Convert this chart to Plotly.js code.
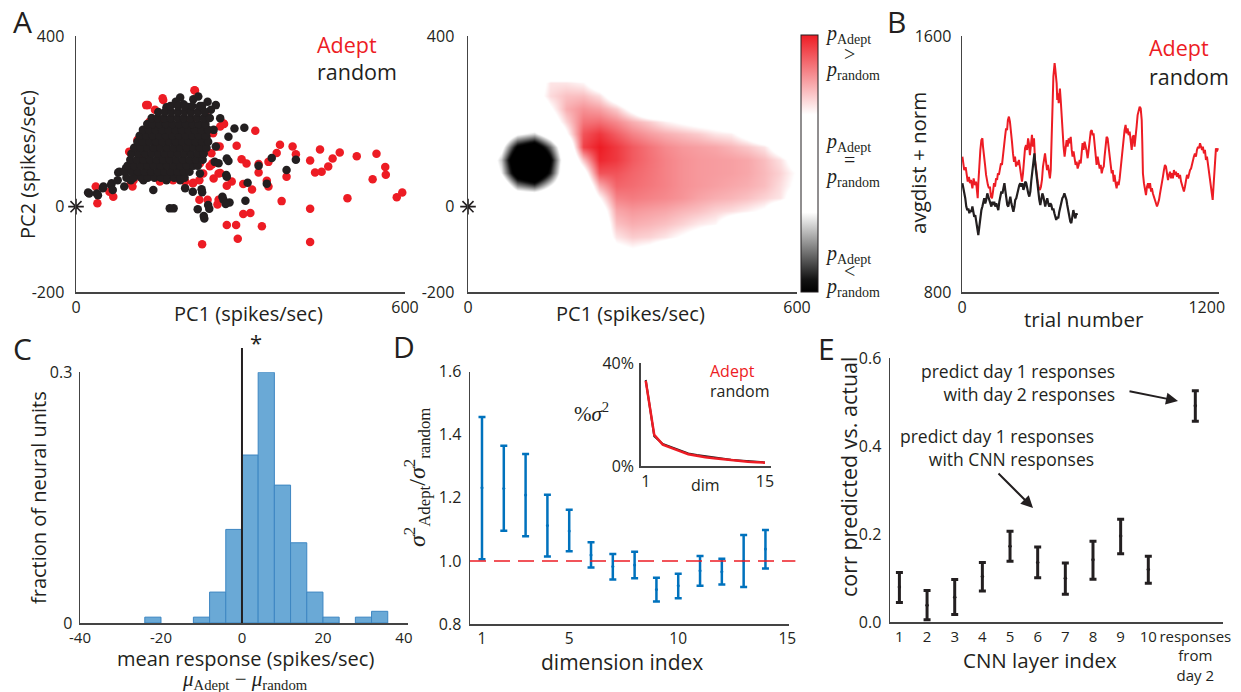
<!DOCTYPE html>
<html><head><meta charset="utf-8">
<script src="https://cdn.plot.ly/plotly-3.0.1.min.js"></script>
<style>html,body{margin:0;padding:0;background:#fff;} #chart{width:1241px;height:692px;}</style>
</head><body><div id="chart"></div>
<script>
// ---------------- DATA ----------------
// Panel A (left): PC scatter
const adeptPC1 = [327,372,395,401,445,481,512,548,564,565,541,468,460,448,436,427,384,375,427,427,495,585,595,293,302,311,333,351,366,333,351,348,321,305,284,275,251,263,248,238,269,318,305,275,292,339,295,230,260,217,131,144,159,134,112,100,39,36,68,103,199,214,232,225,240,258,250,257,247,244,260,263,270,101,105,123,153,177,202,226,238,128,158,216,268,262,249,225,213,97,100,61,140,150,180,170,200,130,190,160,210,120,220];
const adeptPC2 = [178,145,141,123,134,127,118,124,93,75,64,113,94,82,80,108,70,13,-5,-83,20,22,33,143,111,101,100,105,126,80,47,61,40,53,59,49,66,79,99,133,195,-15,-17,-43,-43,-46,-75,-88,16,272,238,227,250,199,156,125,8,47,23,47,59,56,78,16,16,5,172,141,125,95,78,188,194,129,62,78,59,62,86,102,211,238,254,273,195,141,102,62,55,129,55,35,203,150,180,120,140,170,100,200,200,110,160];
const randomPC1 = [22,38,50,65,77,91,190,214,223,240,255,263,289,307,278,255,275,274,253,229,226,199,213,229,141,171,178,222,233,241,267,280,309,313,333,348,357,384,401,190,165,123,129,238,226,246,202,165,251,260,278,269,273,243,234,230,275,40,49,64,67,79,88,100,113,76,24,182,196,230];
const randomPC2 = [33,31,47,55,80,90,256,252,258,246,238,207,183,185,164,141,113,74,105,121,78,43,35,41,39,-4,-4,-6,-22,4,23,10,14,56,96,54,114,86,110,62,62,62,94,164,148,227,234,233,180,102,107,16,6,-5,-28,34,70,27,43,51,39,82,47,62,74,62,31,246,240,236];
// dense core of the random cloud (rows of PC2, PC1 positions per row)
const randomCoreRowPC2 = [68,82,96,110,124,138,152,166,180,194,208,222,236];
const randomCoreRowPC1 = [
 [92,105,119,131,143,155,167,179,190,198],
 [88,101,113,125,137,149,161,173,185,197,207],
 [94,106,118,130,142,154,166,178,190,202,214,222],
 [99,111,123,135,147,159,171,183,195,207,219,231],
 [101,114,126,138,150,162,174,186,198,210,222,233],
 [106,118,130,142,154,166,178,190,202,214,226,238],
 [112,122,134,146,158,170,182,194,206,218,230,241],
 [116,128,140,152,164,176,188,200,212,224,236],
 [122,133,145,157,169,181,193,205,217,229,241],
 [130,140,152,164,176,188,200,212,224,236],
 [138,149,161,173,185,197,209,221,233,244],
 [150,162,174,186,198,210,222,235],
 [172,186,198,212,226]];

// Panel A (middle): density difference map (p_Adept - p_random), grid
const densPC1 = [30,60,90,120,150,180,210,240,270,300,330,360,390,420,450,480,510,540,570,600];
const densPC2 = [-130,-100,-70,-40,-10,20,50,80,110,140,170,200,230,260,290,320];
const densDiff = [
 [0,0,0,0,0,0,0,0,0,0,0,0,0,0,0,0,0,0,0,0],
 [0,0,0,0,0,0,0,0,0.3,0.36,0.3,0.15,0,0,0,0,0,0,0,0],
 [0,0,0,0,0,0,0,0.15,0.45,0.52,0.5,0.45,0.36,0.27,0.1,0,0,0,0,0],
 [0,0,0,0,0,0,0,0.1,0.55,0.6,0.58,0.55,0.5,0.44,0.4,0.2,0.05,0,0,0],
 [0,0,0,0,0,0,0,0.2,0.62,0.66,0.64,0.62,0.58,0.55,0.5,0.47,0.42,0.35,0.1,0],
 [0,0,0,0,0,0,0,0.38,0.72,0.74,0.72,0.7,0.67,0.63,0.6,0.58,0.55,0.5,0.45,0.22],
 [0,0,-0.62,-0.78,-0.38,0,0.05,0.6,0.8,0.78,0.75,0.72,0.68,0.66,0.64,0.62,0.6,0.56,0.47,0.33],
 [0,-0.4,-1.24,-1.53,-0.87,0,0.25,0.85,0.85,0.8,0.76,0.72,0.68,0.66,0.65,0.64,0.62,0.57,0.5,0.36],
 [0,-0.51,-1.45,-1.93,-1.02,-0.05,0.55,0.97,0.92,0.83,0.77,0.72,0.68,0.66,0.65,0.64,0.62,0.56,0.46,0.25],
 [0,-0.27,-1.02,-1.25,-0.71,0,0.9,1.0,0.92,0.83,0.76,0.7,0.66,0.64,0.62,0.58,0.53,0.45,0.22,0],
 [0,0,-0.34,-0.47,-0.13,0.35,0.85,0.93,0.82,0.72,0.65,0.6,0.56,0.52,0.45,0.42,0.27,0.05,0,0],
 [0,0,0,0,0.2,0.5,0.76,0.78,0.7,0.6,0.52,0.42,0.35,0.29,0.26,0.15,0,0,0,0],
 [0,0,0,0,0.35,0.6,0.68,0.64,0.52,0.3,0,0,0,0,0,0,0,0,0,0],
 [0,0,0,0.25,0.48,0.55,0.56,0.47,0.2,0,0,0,0,0,0,0,0,0,0,0],
 [0,0,0,0.2,0.45,0.45,0.4,0.2,0,0,0,0,0,0,0,0,0,0,0,0],
 [0,0,0,0,0,0,0,0,0,0,0,0,0,0,0,0,0,0,0,0]];

// Panel B: avgdist + norm vs trial number
const adeptTrial = [2,7,11,18,23,28,34,39,44,51,57,64,69,74,77,80,85,90,95,100,103,108,113,118,123,127,132,137,142,147,152,157,162,167,172,176,181,186,191,196,201,206,211,216,221,225,230,235,240,245,250,255,260,265,270,274,279,284,289,294,299,304,309,314,319,324,328,333,338,343,348,353,358,363,368,372,377,382,387,392,397,402,407,412,417,421,426,431,435,438,441,444,448,451,454,457,461,464,467,471,474,477,480,484,487,490,493,498,503,508,513,518,523,528,533,538,542,547,552,557,562,567,572,577,582,587,591,596,601,
 610,616,621,626,631,636,641,645,650,655,660,665,670,675,680,685,690,695,699,704,709,714,719,724,729,734,739,744,748,753,758,763,768,773,778,783,788,793,797,802,807,812,817,822,827,832,837,842,846,851,856,861,866,871,876,881,884,887,892,897,902,907,912,917,922,927,931,936,941,946,951,956,961,966,971,976,980,985,990,995,1000,1005,1010,1015,1020,1025,1029,1034,1039,1044,1049,1054,1059,1064,1069,1074,1078,1083,1088,1093,1098,1103,1108,1113,1118,1123,1128,1132,1137,1142,1147,1152,1157,1162,1167,1172,1177,1181,1186,1191,1196,1201,1206,1211,1216,1221,1226,1229,1232,1235,1240,1245,1250,1255];
const adeptAvg = [1223,1197,1181,1190,1166,1145,1160,1140,1150,1124,1155,1134,1145,1103,1093,1140,1212,1244,1275,1280,1254,1233,1197,1166,1145,1134,1124,1129,1098,1093,1114,1140,1129,1155,1150,1171,1166,1186,1202,1197,1233,1259,1285,1311,1306,1337,1348,1332,1285,1270,1233,1207,1223,1192,1207,1197,1213,1186,1160,1145,1171,1213,1249,1259,1244,1280,1265,1228,1270,1291,1254,1280,1212,1181,1160,1140,1124,1119,1129,1150,1192,1223,1233,1207,1181,1197,1171,1155,1181,1265,1348,1410,1473,1494,1515,1499,1473,1452,1400,1421,1390,1416,1436,1400,1358,1337,1296,1254,1223,1244,1275,1254,1280,1265,1285,1244,1223,1239,1213,1197,1207,1186,1197,1213,1202,1244,1265,1244,1270,
 1244,1218,1244,1285,1301,1306,1290,1296,1265,1233,1197,1223,1202,1186,1197,1171,1186,1192,1223,1254,1285,1280,1244,1213,1197,1171,1181,1145,1166,1140,1124,1145,1134,1155,1192,1223,1254,1285,1306,1322,1296,1311,1290,1301,1270,1244,1285,1290,1254,1280,1317,1353,1364,1379,1374,1338,1265,1171,1140,1119,1103,1129,1140,1124,1140,1114,1124,1108,1098,1093,1082,1067,1077,1088,1108,1124,1140,1160,1181,1197,1192,1171,1150,1166,1176,1155,1171,1155,1181,1166,1176,1160,1171,1155,1166,1145,1134,1129,1114,1129,1150,1166,1155,1171,1181,1186,1202,1213,1223,1233,1223,1244,1254,1249,1265,1254,1244,1254,1233,1244,1213,1223,1197,1181,1150,1134,1103,1088,1119,1160,1213,1249,1239,1249];
const randomTrial = [2,7,11,16,21,26,31,36,41,46,51,56,60,65,70,75,80,85,90,95,100,105,109,114,119,124,129,134,139,144,149,154,158,163,168,173,178,183,188,193,198,203,208,212,217,222,227,232,237,242,247,252,257,261,266,271,276,281,286,291,296,301,306,310,315,320,325,330,335,340,345,350,355,359,364,369,374,379,384,389,394,399,404,408,413,418,423,428,433,438,443,448,453,458,462,467,472,477,482,487,492,497,502,507,512,516,521,526,531,536,541,546,551,556,561,564];
const randomAvg = [1140,1124,1108,1093,1067,1056,1061,1046,1056,1051,1067,1046,1035,1040,1015,994,978,1004,1035,1056,1067,1082,1093,1077,1088,1108,1098,1093,1077,1067,1082,1072,1082,1067,1077,1061,1056,1082,1098,1114,1108,1129,1140,1119,1098,1072,1067,1088,1098,1077,1067,1051,1067,1088,1093,1108,1119,1134,1140,1129,1140,1119,1129,1145,1140,1119,1108,1098,1114,1150,1186,1213,1233,1202,1171,1145,1119,1088,1072,1093,1108,1098,1077,1067,1082,1093,1077,1067,1077,1072,1056,1061,1046,1035,1025,1035,1030,1051,1067,1082,1093,1098,1108,1098,1088,1072,1056,1035,1020,1015,1040,1056,1040,1030,1046,1040];

// Panel C: histogram of mean response difference
const histCenters = [-22,-10,-6,-2,2,6,10,14,18,22,30,34];
const histFraction = [0.007,0.007,0.037,0.112,0.201,0.300,0.165,0.096,0.037,0.007,0.007,0.014];
const histMean = 5.7;

// Panel D: variance ratio per dimension
const dimIndex = [1,2,3,4,5,6,7,8,9,10,11,12,13,14];
const varRatio = [1.232,1.23,1.209,1.112,1.095,1.019,0.982,0.987,0.909,0.921,0.969,0.966,1.0,1.038];
const varRatioLow = [1.005,1.096,1.078,1.014,1.031,0.979,0.941,0.945,0.871,0.882,0.921,0.925,0.917,0.976];
const varRatioHigh = [1.456,1.365,1.339,1.21,1.162,1.059,1.022,1.029,0.947,0.959,1.016,1.007,1.082,1.098];
// Panel D inset: % variance explained
const insetDim = [1,2,3,4,5,6,7,8,9,10,11,12,13,14,15];
const insetAdept = [33.2,12.1,8.3,7.2,5.8,4.6,3.9,3.4,3.0,2.6,2.3,2.0,1.7,1.5,1.3];
const insetRandom = [33.5,11.6,8.6,7.4,6.0,4.9,4.3,3.8,3.3,2.8,2.4,2.1,1.8,1.6,1.4];

// Panel E: corr predicted vs actual
const layerPos = [1,2,3,4,5,6,7,8,9,10,11.7];
const layerLabels = ['1','2','3','4','5','6','7','8','9','10','responses<br>from<br>day 2'];
const corrMean = [0.080,0.039,0.057,0.104,0.173,0.136,0.100,0.142,0.196,0.120,0.492];
const corrLow = [0.045,0.006,0.018,0.071,0.139,0.101,0.064,0.098,0.156,0.089,0.457];
const corrHigh = [0.113,0.072,0.097,0.136,0.207,0.171,0.135,0.184,0.234,0.150,0.526];

// ---------------- STYLE / LAYOUT ----------------
const W = 1241, H = 692;
const RED = '#ed1c24', BLK = '#231f20', AXC = '#444444', TXT = '#231f20', BLUE = '#0072bd';
const FONT = 'Open Sans, sans-serif', SERIF = 'Liberation Serif, Times New Roman, serif';
const hx = (a, b) => [a / W, b / W];
const vy = (top, bottom) => [1 - bottom / H, 1 - top / H];
const PX = p => p / W, PY = p => 1 - p / H;

function axis(dom, rng, tv, tt, anchor, extra) {
  return Object.assign({domain: dom, range: rng, tickmode: 'array', tickvals: tv, ticktext: tt, anchor: anchor,
    showline: true, linecolor: AXC, linewidth: 1.5, zeroline: false, showgrid: false, tickangle: 0,
    ticks: 'outside', ticklen: 4, tickcolor: 'rgba(0,0,0,0)', tickfont: {size: 16, color: TXT, family: FONT},
    fixedrange: true}, extra || {});
}

// build the dense random core
const coreX = [], coreY = [];
randomCoreRowPC2.forEach((yv, i) => randomCoreRowPC1[i].forEach(xv => { coreX.push(xv); coreY.push(yv); }));

const star = {symbol: 'asterisk-open', size: 13, color: BLK, line: {width: 1.6, color: BLK}};
const traces = [
  {type: 'scatter', mode: 'markers', x: adeptPC1, y: adeptPC2, xaxis: 'x', yaxis: 'y', cliponaxis: false,
   marker: {size: 8.5, color: RED}, hoverinfo: 'skip'},
  {type: 'scatter', mode: 'markers', x: randomPC1.concat(coreX), y: randomPC2.concat(coreY), xaxis: 'x', yaxis: 'y', cliponaxis: false,
   marker: {size: 8.5, color: BLK}, hoverinfo: 'skip'},
  {type: 'scatter', mode: 'markers', x: [0], y: [0], xaxis: 'x', yaxis: 'y', cliponaxis: false,
   marker: star, hoverinfo: 'skip'},
  {type: 'heatmap', x: densPC1, y: densPC2, z: densDiff, xaxis: 'x2', yaxis: 'y2', zmin: -1, zmax: 1, zsmooth: 'best',
   colorscale: [[0, '#000000'], [0.05, '#141414'], [0.31, '#ffffff'], [0.69, '#ffffff'], [1, RED]],
   hoverinfo: 'skip',
   colorbar: {x: 801 / W, xanchor: 'left', y: 1 - 163.5 / H, yanchor: 'middle', len: 257, lenmode: 'pixels',
     thickness: 17, thicknessmode: 'pixels', outlinewidth: 1, outlinecolor: BLK, showticklabels: false, ticks: '',
     xpad: 0, ypad: 0}},
  {type: 'scatter', mode: 'markers', x: [0], y: [0], xaxis: 'x2', yaxis: 'y2', cliponaxis: false,
   marker: star, hoverinfo: 'skip'},
  {type: 'scatter', mode: 'lines', x: adeptTrial, y: adeptAvg, xaxis: 'x3', yaxis: 'y3',
   line: {color: RED, width: 2}, hoverinfo: 'skip'},
  {type: 'scatter', mode: 'lines', x: randomTrial, y: randomAvg, xaxis: 'x3', yaxis: 'y3',
   line: {color: BLK, width: 2.2}, hoverinfo: 'skip'},
  {type: 'bar', x: histCenters, y: histFraction, width: 4, xaxis: 'x4', yaxis: 'y4',
   marker: {color: '#6aa9d6', line: {color: '#3d86c2', width: 1}}, hoverinfo: 'skip'},
  {type: 'scatter', mode: 'markers', x: [histMean], y: [0.318], xaxis: 'x4', yaxis: 'y4', cliponaxis: false,
   marker: {symbol: 'triangle-down', size: 15, color: RED}, hoverinfo: 'skip'},
  {type: 'scatter', mode: 'markers', x: dimIndex, y: varRatio, xaxis: 'x5', yaxis: 'y5', cliponaxis: false,
   marker: {size: 3, color: BLUE},
   error_y: {type: 'data', symmetric: false, array: varRatioHigh.map((v, i) => v - varRatio[i]),
     arrayminus: varRatio.map((v, i) => v - varRatioLow[i]), color: BLUE, thickness: 2.5, width: 3.5},
   hoverinfo: 'skip'},
  {type: 'scatter', mode: 'lines', x: insetDim, y: insetRandom, xaxis: 'x6', yaxis: 'y6',
   line: {color: BLK, width: 2}, hoverinfo: 'skip'},
  {type: 'scatter', mode: 'lines', x: insetDim, y: insetAdept, xaxis: 'x6', yaxis: 'y6',
   line: {color: RED, width: 2.5}, hoverinfo: 'skip'},
  {type: 'scatter', mode: 'markers', x: layerPos, y: corrMean, xaxis: 'x7', yaxis: 'y7', cliponaxis: false,
   marker: {size: 3.5, color: BLK},
   error_y: {type: 'data', symmetric: false, array: corrHigh.map((v, i) => v - corrMean[i]),
     arrayminus: corrMean.map((v, i) => v - corrLow[i]), color: BLK, thickness: 3, width: 3.5},
   hoverinfo: 'skip'}
];

function ann(text, px, py, opts) {
  return Object.assign({text: text, x: PX(px), y: PY(py), xref: 'paper', yref: 'paper', showarrow: false,
    xanchor: 'center', yanchor: 'middle', font: {size: 20, color: TXT, family: FONT}}, opts || {});
}
const pA = '<i>p</i><sub>Adept</sub>', pR = '<i>p</i><sub>random</sub>';
const sFont = {size: 20, color: TXT, family: SERIF};
const big = {size: 30, color: TXT, family: FONT};

const annotations = [
  ann('A', 22, 22, {font: big}),
  ann('B', 896, 22, {font: big}),
  ann('C', 22, 348, {font: big}),
  ann('D', 404, 347, {font: big}),
  ann('E', 826, 348, {font: big}),
  // A left
  ann('Adept', 315, 44, {xanchor: 'left', font: {size: 21.5, color: RED, family: FONT}}),
  ann('random', 315, 71, {xanchor: 'left', font: {size: 21.5, color: TXT, family: FONT}}),
  ann('PC1 (spikes/sec)', 248, 313),
  ann('PC2 (spikes/sec)', 27, 165, {textangle: -90}),
  // A middle
  ann('PC1 (spikes/sec)', 630, 313),
  ann(pA, 823, 35, {xanchor: 'left', font: sFont}),
  ann('&gt;', 849, 54, {font: sFont}),
  ann(pR, 823, 70, {xanchor: 'left', font: sFont}),
  ann(pA, 823, 143, {xanchor: 'left', font: sFont}),
  ann('=', 849, 160, {font: sFont}),
  ann(pR, 823, 177, {xanchor: 'left', font: sFont}),
  ann(pA, 823, 254, {xanchor: 'left', font: sFont}),
  ann('&lt;', 849, 271, {font: sFont}),
  ann(pR, 823, 287, {xanchor: 'left', font: sFont}),
  // B
  ann('Adept', 1147, 47, {xanchor: 'left', font: {size: 21.5, color: RED, family: FONT}}),
  ann('random', 1147, 76, {xanchor: 'left', font: {size: 21.5, color: TXT, family: FONT}}),
  ann('trial number', 1084, 319, {font: {size: 20.5, color: TXT, family: FONT}}),
  ann('avgdist + norm', 918, 163, {textangle: -90, font: {size: 20.5, color: TXT, family: FONT}}),
  // C
  ann('fraction of neural units', 38, 498, {textangle: -90}),
  ann('mean response (spikes/sec)', 245, 658, {font: {size: 20, color: TXT, family: FONT}}),
  ann('<i>μ</i><sub>Adept</sub> − <i>μ</i><sub>random</sub>', 245, 680, {font: {size: 21, color: TXT, family: SERIF}}),
  ann('*', 256, 342, {font: {size: 22, color: TXT, family: FONT}}),
  // D
  ann('<i>σ</i><sup>2</sup><sub>Adept</sub>/<i>σ</i><sup>2</sup><sub>random</sub>', 417, 478, {textangle: -90, font: {size: 24, color: TXT, family: SERIF}}),
  ann('dimension index', 622, 662, {font: {size: 21, color: TXT, family: FONT}}),
  ann('%<i>σ</i><sup>2</sup>', 591, 412, {font: {size: 21, color: TXT, family: SERIF}}),
  ann('dim', 705, 485, {font: {size: 16, color: TXT, family: FONT}}),
  ann('Adept', 708, 371, {xanchor: 'left', font: {size: 16, color: RED, family: FONT}}),
  ann('random', 708, 391, {xanchor: 'left', font: {size: 16, color: TXT, family: FONT}}),
  // E
  ann('corr predicted vs. actual', 848, 477, {textangle: -90, font: {size: 21.5, color: TXT, family: FONT}}),
  ann('CNN layer index', 1040, 660, {font: {size: 20.5, color: TXT, family: FONT}}),
  ann('predict day 1 responses<br>with day 2 responses', 1117, 382, {xanchor: 'right', align: 'right', font: {size: 17.5, color: TXT, family: FONT}}),
  ann('predict day 1 responses<br>with CNN responses', 1096, 447, {xanchor: 'right', align: 'right', font: {size: 17.5, color: TXT, family: FONT}}),
  {text: '', x: PX(1178), y: PY(401), xref: 'paper', yref: 'paper', showarrow: true, ax: -50, ay: -10,
   arrowhead: 2, arrowsize: 1.2, arrowwidth: 2, arrowcolor: BLK},
  {text: '', x: PX(1033), y: PY(508), xref: 'paper', yref: 'paper', showarrow: true, ax: -36, ay: -36,
   arrowhead: 2, arrowsize: 1.2, arrowwidth: 2, arrowcolor: BLK}
];

const layout = {
  width: W, height: H, margin: {l: 0, r: 0, t: 0, b: 0}, paper_bgcolor: '#fff', plot_bgcolor: 'rgba(0,0,0,0)',
  showlegend: false, font: {family: FONT, color: TXT, size: 16},
  xaxis: axis(hx(76, 405), [0, 600], [0, 600], ['0', '600'], 'y', {ticklen: 0}),
  yaxis: axis(vy(36, 292), [-200, 400], [-200, 0, 400], ['-200', '0', '400'], 'x', {ticklen: 7}),
  xaxis2: axis(hx(468, 797), [0, 600], [0, 600], ['0', '600'], 'y2', {ticklen: 0}),
  yaxis2: axis(vy(36, 292), [-200, 400], [-200, 0, 400], ['-200', '0', '400'], 'x2', {ticklen: 9}),
  xaxis3: axis(hx(962, 1219), [0, 1260], [0, 1200], ['0', '1200'], 'y3', {ticklen: 0}),
  yaxis3: axis(vy(36, 292), [800, 1600], [800, 1600], ['800', '1600'], 'x3', {ticklen: 6}),
  xaxis4: axis(hx(80, 408), [-40, 41], [-40, -20, 0, 20, 40], ['-40', '-20', '0', '20', '40'], 'y4', {ticklen: 0, tickfont: {size: 15, color: TXT, family: FONT}}),
  yaxis4: axis(vy(372.3, 623), [0, 0.3], [0, 0.3], ['0', '0.3'], 'x4', {ticklen: 3}),
  xaxis5: axis(hx(470, 789), [0.45, 15.08], [1, 5, 10, 15], ['1', '5', '10', '15'], 'y5', {ticklen: 0, tickfont: {size: 15.5, color: TXT, family: FONT}}),
  yaxis5: axis(vy(371.7, 624), [0.8, 1.6], [0.8, 1.0, 1.2, 1.4, 1.6], ['0.8', '1.0', '1.2', '1.4', '1.6'], 'x5', {ticklen: 4}),
  xaxis6: axis(hx(640.7, 770.7), [0.41, 15.67], [1, 15], ['1', '15'], 'y6', {ticklen: 0}),
  yaxis6: axis(vy(363.3, 466), [0, 40], [0, 40], ['0%', '40%'], 'x6', {ticklen: 2}),
  xaxis7: axis(hx(890, 1222.7), [0.66, 12.69], layerPos, layerLabels, 'y7', {ticklen: 0, tickangle: 0, tickfont: {size: 15, color: TXT, family: FONT}}),
  yaxis7: axis(vy(358.3, 622.3), [0, 0.6], [0, 0.2, 0.4, 0.6], ['0.0', '0.2', '0.4', '0.6'], 'x7', {ticklen: 4}),
  shapes: [
    {type: 'line', xref: 'x4', yref: 'y4 domain', x0: 0, x1: 0, y0: 0, y1: 1.097, line: {color: BLK, width: 2}},
    {type: 'line', xref: 'x5 domain', yref: 'y5', x0: 0, x1: 1.02, y0: 1, y1: 1, line: {color: RED, width: 1.5, dash: '16px,8px'}}
  ],
  annotations: annotations
};

Plotly.newPlot('chart', traces, layout, {displayModeBar: false, staticPlot: true});
</script></body></html>
